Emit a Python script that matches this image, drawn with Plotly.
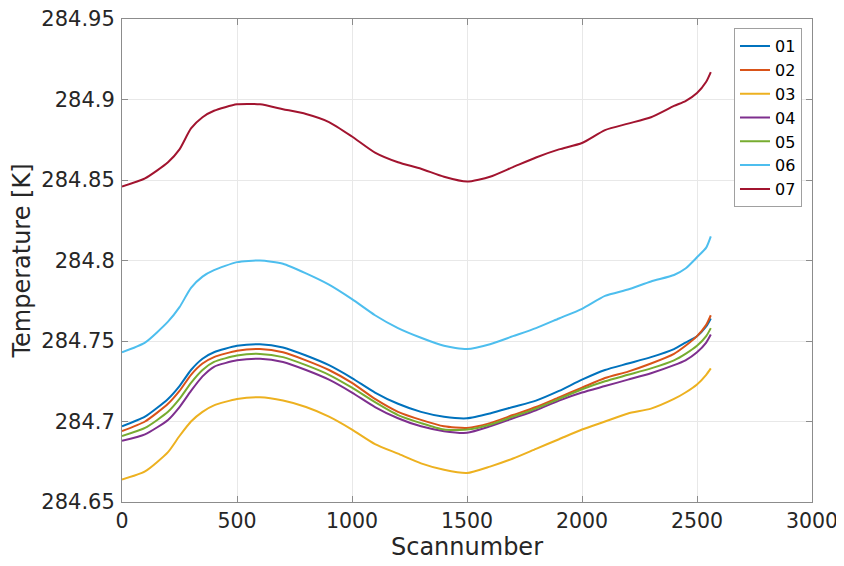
import plotly.graph_objects as go

scan = [0, 100, 200, 250, 300, 350, 400, 500, 600, 700, 800, 900, 1000, 1100, 1200,
        1300, 1400, 1500, 1600, 1700, 1800, 1900, 2000, 2100, 2200, 2300, 2400, 2450,
        2500, 2540, 2560]

t01 = [284.697, 284.703, 284.714, 284.722, 284.732, 284.739, 284.743, 284.747, 284.748,
       284.746, 284.741, 284.735, 284.727, 284.718, 284.711, 284.706, 284.703, 284.702,
       284.705, 284.709, 284.713, 284.719, 284.726, 284.732, 284.736, 284.740, 284.745,
       284.749, 284.753, 284.759, 284.764]
t02 = [284.694, 284.700, 284.711, 284.719, 284.729, 284.736, 284.740, 284.744, 284.745,
       284.743, 284.738, 284.732, 284.724, 284.714, 284.706, 284.701, 284.697, 284.696,
       284.699, 284.704, 284.709, 284.715, 284.721, 284.727, 284.731, 284.736, 284.742,
       284.747, 284.753, 284.760, 284.766]
t03 = [284.664, 284.669, 284.681, 284.691, 284.700, 284.706, 284.710, 284.714, 284.715,
       284.713, 284.709, 284.703, 284.695, 284.686, 284.680, 284.674, 284.670, 284.668,
       284.672, 284.677, 284.683, 284.689, 284.695, 284.700, 284.705, 284.708, 284.714,
       284.718, 284.723, 284.729, 284.733]
t04 = [284.688, 284.692, 284.701, 284.709, 284.719, 284.728, 284.734, 284.738, 284.739,
       284.737, 284.732, 284.726, 284.718, 284.709, 284.702, 284.697, 284.694, 284.693,
       284.697, 284.702, 284.707, 284.713, 284.718, 284.722, 284.726, 284.730, 284.735,
       284.738, 284.743, 284.749, 284.754]
t05 = [284.691, 284.696, 284.706, 284.714, 284.724, 284.732, 284.737, 284.741, 284.742,
       284.740, 284.735, 284.729, 284.721, 284.712, 284.704, 284.699, 284.695, 284.695,
       284.698, 284.703, 284.708, 284.714, 284.720, 284.725, 284.729, 284.733, 284.738,
       284.742, 284.747, 284.753, 284.758]
t06 = [284.743, 284.749, 284.762, 284.771, 284.783, 284.790, 284.794, 284.799, 284.800,
       284.798, 284.792, 284.785, 284.776, 284.766, 284.758, 284.752, 284.747, 284.745,
       284.748, 284.753, 284.758, 284.764, 284.770, 284.778, 284.782, 284.787, 284.791,
       284.795, 284.802, 284.808, 284.815]
t07 = [284.846, 284.851, 284.861, 284.869, 284.882, 284.889, 284.893, 284.897, 284.897,
       284.894, 284.891, 284.886, 284.877, 284.867, 284.861, 284.857, 284.852, 284.849,
       284.852, 284.858, 284.864, 284.869, 284.873, 284.881, 284.885, 284.889, 284.896,
       284.899, 284.904, 284.911, 284.917]

names = ["01", "02", "03", "04", "05", "06", "07"]
series = [t01, t02, t03, t04, t05, t06, t07]
colors = ["#0072BD", "#D95319", "#EDB120", "#7E2F8E", "#77AC30", "#4DBEEE", "#A2142F"]

y_ticks = [284.65, 284.7, 284.75, 284.8, 284.85, 284.9, 284.95]
y_labels = ["284.65", "284.7", "284.75", "284.8", "284.85", "284.9", "284.95"]
x_ticks = [0, 500, 1000, 1500, 2000, 2500, 3000]

fig = go.Figure()
for n, s, c in zip(names, series, colors):
    fig.add_trace(go.Scatter(x=scan, y=s, name=n, mode="lines",
                             line=dict(color=c, width=2, shape="spline", smoothing=0.6)))

axis_common = dict(showline=True, linecolor="#8c8c8c", linewidth=1, mirror="allticks",
                   ticks="inside", ticklen=6, tickcolor="#8c8c8c", automargin=False,
                   showgrid=True, gridcolor="#e8e8e8", gridwidth=1, zeroline=False,
                   ticklabeloverflow="allow",
                   title_font=dict(family="DejaVu Sans", size=24, color="#262626"))

fig.update_xaxes(range=[0, 3000], tickvals=x_ticks, title_text="Scannumber",
                 title_standoff=4,
                 tickfont=dict(family="DejaVu Sans", size=20.5, color="#262626"),
                 **axis_common)
fig.update_yaxes(range=[284.65, 284.95], tickvals=y_ticks, ticktext=y_labels,
                 title_text="Temperature [K]", title_standoff=6, ticklabelstandoff=2,
                 tickfont=dict(family="DejaVu Sans", size=21, color="#262626"),
                 **axis_common)

fig.update_layout(
    width=836, height=558,
    margin=dict(l=114, r=32, t=11, b=64),
    plot_bgcolor="white", paper_bgcolor="white",
    font=dict(family="DejaVu Sans", color="#262626"),
    legend=dict(x=0.9855, y=0.981, xanchor="right", yanchor="top",
                bgcolor="white", bordercolor="#a0a0a0", borderwidth=1,
                font=dict(family="DejaVu Sans", size=16, color="#000000"),
                itemwidth=30, tracegroupgap=0),
    showlegend=True,
)

fig.write_html("out.html")
